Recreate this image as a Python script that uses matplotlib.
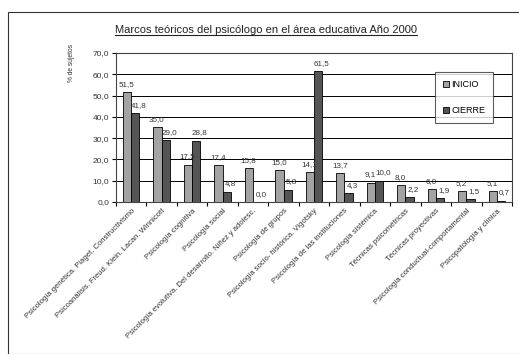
import matplotlib
matplotlib.use("Agg")
import matplotlib.pyplot as plt
import numpy as np
from matplotlib.patches import Rectangle

categories = [
    "Psicología genética. Piaget. Constructivismo",
    "Psicoanálisis. Freud. Klein. Lacan. Winnicott",
    "Psicología cognitiva",
    "Psicología social",
    "Psicología evolutiva. Del desarrollo. Niñez y adolesc.",
    "Psicología de grupos",
    "Psicología socio- histórica. Vigotsky",
    "Psicología de las instituciones",
    "Psicología sistémica",
    "Técnicas psicométricas",
    "Técnicas proyectivas",
    "Psicología conductual-comportamental",
    "Psicopatología y clínica",
]
inicio = [51.5, 35.0, 17.5, 17.4, 15.8, 15.0, 14.1, 13.7, 9.1, 8.0, 6.0, 5.2, 5.1]
cierre = [41.8, 29.0, 28.8, 4.8, 0.0, 5.8, 61.5, 4.3, 10.0, 2.2, 1.9, 1.5, 0.7]
yticks = [0, 10, 20, 30, 40, 50, 60, 70]

plt.rcParams['font.family'] = ['Liberation Sans', 'DejaVu Sans']

W, H = 519, 354
fig = plt.figure(figsize=(W / 100, H / 100), dpi=100)
fig.patch.set_facecolor('white')

# outer chart border
fig.patches.append(Rectangle((8 / W, 0.0), 1.2, (H - 12) / H, transform=fig.transFigure,
                             fill=False, edgecolor='#333333', linewidth=0.8))

left, right, top, bottom = 116, 512, 53, 202
ax = fig.add_axes([left / W, 1 - bottom / H, (right - left) / W, (bottom - top) / H])

x = np.arange(len(categories))
bw = 0.27
ax.bar(x - bw / 2, inicio, bw, color='#a3a3a3', edgecolor='black', linewidth=0.6,
       label='INICIO', zorder=3)
ax.bar(x + bw / 2, cierre, bw, color='#555555', edgecolor='black', linewidth=0.6,
       label='CIERRE', zorder=3)

def fmt(v):
    return f"{v:.1f}".replace('.', ',')

for xi, v in zip(x, inicio):
    ax.text(xi - bw / 2 - 0.02, v + 2.0, fmt(v), ha='center', va='bottom', fontsize=5.8, color='#333333')
for xi, v in zip(x, cierre):
    ax.text(xi + bw / 2 + 0.12, v + 2.0, fmt(v), ha='center', va='bottom', fontsize=5.8, color='#333333')

ax.set_xlim(-0.5, len(categories) - 0.5)
ax.set_ylim(0, 70)
ax.set_yticks(yticks)
ax.set_yticklabels([fmt(t) for t in yticks], fontsize=6, color='#333333')
ax.yaxis.grid(True, color='black', linewidth=0.7, zorder=0)
ax.set_axisbelow(True)

ax.set_xticks(np.arange(len(categories) + 1) - 0.5, minor=False)
ax.set_xticklabels([])
ax.set_xticks(x, minor=True)
ax.set_xticklabels(categories, minor=True, rotation=45, ha='right', rotation_mode='anchor',
                   fontsize=5.5, color='#333333')
ax.tick_params(axis='x', which='minor', length=0, pad=4)
ax.tick_params(axis='x', which='major', length=3, direction='out', width=0.8)
ax.tick_params(axis='y', length=3, direction='out', width=0.8, pad=2)

for s in ax.spines.values():
    s.set_color('#444444')
    s.set_linewidth(0.8)

ax.set_ylabel('% de sujetos', fontsize=4.8, color='#333333')
ax.yaxis.set_label_coords((75 - left) / (right - left), (bottom - 63) / (bottom - top))

leg = ax.legend(loc='upper left',
                bbox_to_anchor=((435 - left) / (right - left), 1 - (72 - top) / (bottom - top)),
                fontsize=6.5, frameon=True, fancybox=False, edgecolor='#333333',
                handlelength=0.6, handleheight=0.6, labelspacing=1.9, borderpad=0.9,
                handletextpad=0.3, borderaxespad=0)
leg.get_frame().set_linewidth(0.8)

t = fig.text(266 / W, 1 - 30 / H, 'Marcos teóricos del psicólogo en el área educativa Año 2000',
             ha='center', va='center', fontsize=8, color='#222222')
fig.canvas.draw()
bb = t.get_window_extent()
fig.add_artist(plt.Line2D([bb.x0 / W, bb.x1 / W], [(bb.y0 + 0.5) / H, (bb.y0 + 0.5) / H],
                          transform=fig.transFigure, color='#222222', linewidth=0.8))

fig.savefig('out.png', dpi=100)
